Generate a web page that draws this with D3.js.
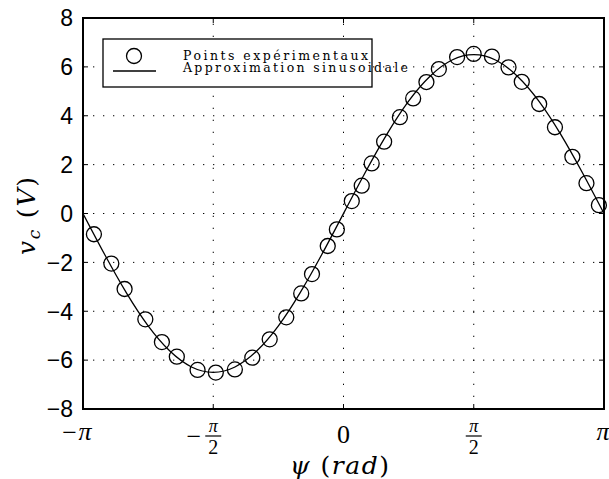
<!DOCTYPE html>
<html>
<head>
<meta charset="utf-8">
<script src="https://cdn.jsdelivr.net/npm/d3@7"></script>
<style>
  html, body { margin: 0; padding: 0; background: #fff; }
  svg { display: block; }
</style>
</head>
<body>
<svg id="chart" width="609" height="479"></svg>
<script>
// ---- data ----
const psiExp = [-3.01,-2.80,-2.64,-2.39,-2.19,-2.01,-1.76,-1.54,-1.31,-1.10,-0.89,-0.69,-0.51,-0.38,-0.19,-0.08,
                0.10,0.22,0.34,0.49,0.68,0.84,1.00,1.15,1.37,1.57,1.79,1.99,2.15,2.36,2.55,2.76,2.93,3.08];
const vExp = [-0.85,-2.05,-3.09,-4.33,-5.26,-5.86,-6.40,-6.51,-6.38,-5.90,-5.15,-4.25,-3.27,-2.48,-1.33,-0.65,
              0.51,1.14,2.05,2.94,3.94,4.71,5.38,5.91,6.40,6.53,6.42,5.98,5.39,4.48,3.53,2.32,1.24,0.34];
const psiFit = [-3.142,-2.880,-2.618,-2.356,-2.094,-1.833,-1.571,-1.309,-1.047,-0.785,-0.524,-0.262,0,
                0.262,0.524,0.785,1.047,1.309,1.571,1.833,2.094,2.356,2.618,2.880,3.142];
const vFit = [0,-1.68,-3.25,-4.60,-5.63,-6.28,-6.50,-6.28,-5.63,-4.60,-3.25,-1.68,0,
              1.68,3.25,4.60,5.63,6.28,6.50,6.28,5.63,4.60,3.25,1.68,0];
const yTicks = [-8,-6,-4,-2,0,2,4,6,8];
const yTickLabels = ["\u22128","\u22126","\u22124","\u22122","0","2","4","6","8"];
const xTicks = [-Math.PI, -Math.PI/2, 0, Math.PI/2, Math.PI];
const xTickLabels = [
  {sign:"\u2212", num:"\u03c0", den:null},
  {sign:"\u2212", num:"\u03c0", den:"2"},
  {sign:"", num:"0", den:null},
  {sign:"", num:"\u03c0", den:"2"},
  {sign:"", num:"\u03c0", den:null}
];
const legendLabels = ["Points exp\u00e9rimentaux", "Approximation sinusoidale"];

// ---- layout ----
const L = 83, R = 604, T = 18, B = 409;
const svg = d3.select("#chart");
const x = d3.scaleLinear().domain([-Math.PI, Math.PI]).range([L, R]);
const y = d3.scaleLinear().domain([-8, 8]).range([B, T]);
const serif = "'Liberation Serif', 'DejaVu Serif', serif";
const serifW = "'DejaVu Serif', 'Liberation Serif', serif";
const sans = "'Liberation Sans', Arial, sans-serif";

// grid
const grid = svg.append("g");
grid.selectAll("line.gy").data(yTicks.filter(d => d > -8 && d < 8)).join("line")
  .attr("x1", L).attr("x2", R).attr("y1", d => y(d)).attr("y2", d => y(d))
  .attr("stroke", "#000").attr("stroke-width", 1).attr("stroke-dasharray", "1.3,8.7");
grid.selectAll("line.gx").data(xTicks.slice(1, -1)).join("line")
  .attr("y1", B).attr("y2", T).attr("x1", d => x(d)).attr("x2", d => x(d))
  .attr("stroke", "#000").attr("stroke-width", 1).attr("stroke-dasharray", "1.3,10.7");

// ticks inward on all sides
const tk = 5;
const ticks = svg.append("g").attr("stroke", "#000").attr("stroke-width", 1);
yTicks.forEach(d => {
  ticks.append("line").attr("x1", L).attr("x2", L + tk).attr("y1", y(d)).attr("y2", y(d));
  ticks.append("line").attr("x1", R).attr("x2", R - tk).attr("y1", y(d)).attr("y2", y(d));
});
xTicks.forEach(d => {
  ticks.append("line").attr("x1", x(d)).attr("x2", x(d)).attr("y1", B).attr("y2", B - tk);
  ticks.append("line").attr("x1", x(d)).attr("x2", x(d)).attr("y1", T).attr("y2", T + tk);
});

// fit line
svg.append("defs").append("clipPath").attr("id", "clip")
  .append("rect").attr("x", L).attr("y", T).attr("width", R - L).attr("height", B - T);
const line = d3.line().x((d, i) => x(psiFit[i])).y(d => y(d)).curve(d3.curveNatural);
svg.append("path").datum(vFit).attr("d", line).attr("clip-path", "url(#clip)")
  .attr("fill", "none").attr("stroke", "#000").attr("stroke-width", 1.3);

// experimental points
svg.append("g").selectAll("circle").data(vExp).join("circle")
  .attr("cx", (d, i) => x(psiExp[i])).attr("cy", d => y(d)).attr("r", 7.5)
  .attr("fill", "none").attr("stroke", "#000").attr("stroke-width", 1.3);

// axes box
svg.append("rect").attr("x", L).attr("y", T).attr("width", R - L).attr("height", B - T)
  .attr("fill", "none").attr("stroke", "#000").attr("stroke-width", 2);

// y tick labels
svg.append("g").selectAll("text").data(yTicks).join("text")
  .attr("x", 73).attr("y", d => y(d) + 8.3)
  .attr("text-anchor", "end").attr("font-family", sans).attr("font-size", 23)
  .text((d, i) => yTickLabels[i]);

// x tick labels
xTicks.forEach((d, i) => {
  const lab = xTickLabels[i];
  const cx = Math.min(x(d), 601);
  const g = svg.append("g").attr("font-family", serif).attr("fill", "#000");
  if (lab.den === null) {
    const isPi = lab.num === "\u03c0";
    g.append("text").attr("x", cx + (isPi ? 2 : 0)).attr("y", isPi ? 440 : 443)
      .attr("text-anchor", "middle").attr("font-size", 26)
      .attr("font-style", isPi ? "italic" : "normal").text(lab.num);
    if (lab.sign) {
      g.append("text").attr("x", cx - 6).attr("y", 441).attr("text-anchor", "end")
        .attr("font-size", 26).text(lab.sign);
    }
  } else {
    g.append("text").attr("x", cx).attr("y", 432).attr("text-anchor", "middle")
      .attr("font-size", 18).attr("font-style", "italic").text(lab.num);
    g.append("line").attr("x1", cx - 8).attr("x2", cx + 8).attr("y1", 436).attr("y2", 436)
      .attr("stroke", "#000").attr("stroke-width", 1.2);
    g.append("text").attr("x", cx).attr("y", 454).attr("text-anchor", "middle")
      .attr("font-size", 20).text(lab.den);
    if (lab.sign) {
      g.append("text").attr("x", cx - 12).attr("y", 445).attr("text-anchor", "end")
        .attr("font-size", 26).text(lab.sign);
    }
  }
});

// x axis label
const xl = svg.append("text").attr("x", 290).attr("y", 474)
  .attr("font-family", serifW).attr("font-size", 25)
  .attr("textLength", 99).attr("lengthAdjust", "spacing");
xl.append("tspan").attr("font-style", "italic").text("\u03c8");
xl.append("tspan").text("\u00a0(");
xl.append("tspan").attr("font-style", "italic").text("rad");
xl.append("tspan").text(")");

// y axis label
const yl = svg.append("text").attr("transform", "translate(35,255) rotate(-90)")
  .attr("font-family", serifW).attr("font-size", 25)
  .attr("textLength", 78).attr("lengthAdjust", "spacing");
yl.append("tspan").attr("font-style", "italic").text("v");
yl.append("tspan").attr("font-style", "italic").attr("font-size", 17).attr("dy", 5).text("c");
yl.append("tspan").attr("dy", -5).text("\u00a0(");
yl.append("tspan").attr("font-style", "italic").text("V");
yl.append("tspan").text(")");

// legend
const lg = svg.append("g");
lg.append("rect").attr("x", 103).attr("y", 39).attr("width", 269).attr("height", 48)
  .attr("fill", "#fff").attr("stroke", "#000").attr("stroke-width", 1.3);
lg.append("circle").attr("cx", 134).attr("cy", 56).attr("r", 7.5)
  .attr("fill", "none").attr("stroke", "#000").attr("stroke-width", 1.3);
lg.append("line").attr("x1", 113).attr("x2", 156).attr("y1", 71).attr("y2", 71)
  .attr("stroke", "#000").attr("stroke-width", 1.3);
const legLens = [185, 225];
lg.selectAll("text").data(legendLabels).join("text")
  .attr("x", 183).attr("y", (d, i) => 60 + i * 12.2)
  .attr("font-family", serifW).attr("font-size", 12.5)
  .attr("textLength", (d, i) => legLens[i]).attr("lengthAdjust", "spacing")
  .text(d => d);
</script>
</body>
</html>
